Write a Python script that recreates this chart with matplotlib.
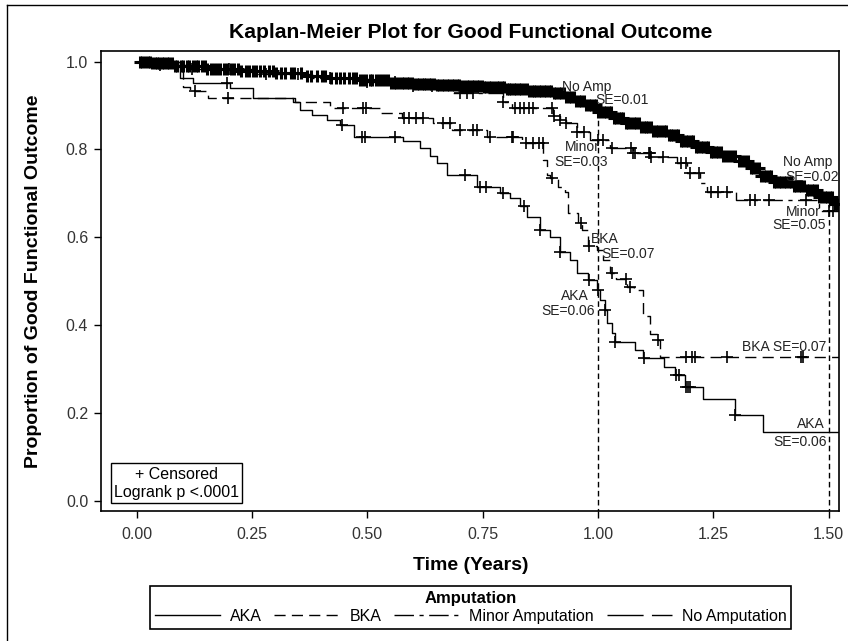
import numpy as np
import matplotlib.pyplot as plt
from matplotlib.lines import Line2D

plt.rcParams['font.family'] = ['Liberation Sans', 'DejaVu Sans']

# Kaplan-Meier step values (time in years, proportion)
aka_time = [0, 0.094, 0.123, 0.202, 0.253, 0.339, 0.354, 0.379, 0.412, 0.441, 0.470,
            0.578, 0.614, 0.636, 0.651, 0.672, 0.737, 0.788, 0.809, 0.831, 0.845,
            0.874, 0.896, 0.918, 0.939, 0.954, 0.979, 0.997, 1.004, 1.015, 1.019,
            1.030, 1.037, 1.080, 1.098, 1.142, 1.167, 1.189, 1.228, 1.297, 1.358]
aka_surv = [1.0, 0.962, 0.951, 0.939, 0.918, 0.909, 0.890, 0.879, 0.867, 0.856, 0.829,
            0.818, 0.803, 0.784, 0.769, 0.742, 0.715, 0.700, 0.689, 0.670, 0.647,
            0.617, 0.601, 0.567, 0.548, 0.518, 0.503, 0.480, 0.457, 0.434, 0.404,
            0.381, 0.362, 0.343, 0.324, 0.305, 0.286, 0.260, 0.231, 0.195, 0.156]
aka_cens = [0.195, 0.444, 0.488, 0.495, 0.56, 0.712, 0.745, 0.758, 0.795, 0.84, 0.874,
            0.918, 0.98, 1.0, 1.015, 1.037, 1.10, 1.17, 1.175, 1.19, 1.195, 1.20, 1.297]

bka_time = [0, 0.100, 0.116, 0.155, 0.343, 0.419, 0.527, 0.574, 0.643, 0.683, 0.759,
            0.835, 0.881, 0.889, 0.896, 0.914, 0.928, 0.936, 0.957, 0.965, 0.979,
            0.997, 1.011, 1.026, 1.040, 1.062, 1.077, 1.098, 1.113, 1.127, 1.134]
bka_surv = [1.0, 0.942, 0.932, 0.918, 0.909, 0.894, 0.882, 0.871, 0.860, 0.844, 0.829,
            0.814, 0.776, 0.741, 0.734, 0.715, 0.704, 0.655, 0.632, 0.617, 0.579,
            0.571, 0.548, 0.518, 0.505, 0.487, 0.480, 0.420, 0.380, 0.366, 0.328]
bka_cens = [0.127, 0.198, 0.448, 0.491, 0.498, 0.58, 0.591, 0.606, 0.621, 0.665, 0.68,
            0.70, 0.73, 0.737, 0.766, 0.813, 0.816, 0.844, 0.858, 0.872, 0.88, 0.90,
            0.963, 0.98, 1.03, 1.06, 1.07, 1.13, 1.19, 1.204, 1.211, 1.28, 1.44, 1.445]

minor_time = [0, 0.04, 0.12, 0.25, 0.38, 0.50, 0.60, 0.686, 0.795, 0.814, 0.903, 0.918,
              0.930, 0.954, 0.983, 1.026, 1.076, 1.113, 1.171, 1.192, 1.221, 1.236,
              1.300, 1.480]
minor_surv = [1.0, 0.992, 0.982, 0.972, 0.962, 0.953, 0.945, 0.928, 0.909, 0.894, 0.875,
              0.867, 0.860, 0.840, 0.822, 0.803, 0.792, 0.783, 0.769, 0.746, 0.723,
              0.704, 0.685, 0.660]
minor_cens = [0.05, 0.12, 0.2, 0.28, 0.35, 0.42, 0.5, 0.56, 0.6, 0.64, 0.70, 0.715, 0.73,
              0.795, 0.82, 0.83, 0.84, 0.85, 0.86, 0.90, 0.905, 0.918, 0.93, 0.955, 0.97,
              1.0, 1.01, 1.03, 1.072, 1.076, 1.08, 1.11, 1.112, 1.115, 1.14, 1.18, 1.19,
              1.20, 1.22, 1.245, 1.26, 1.28, 1.33, 1.34, 1.37, 1.45, 1.50, 1.51]

noamp_time = [0, 0.03, 0.08, 0.15, 0.22, 0.30, 0.36, 0.42, 0.48, 0.55, 0.60, 0.65, 0.70,
              0.75, 0.80, 0.85, 0.90, 0.93, 0.95, 0.97, 1.00, 1.03, 1.06, 1.09, 1.12,
              1.15, 1.18, 1.21, 1.24, 1.27, 1.30, 1.33, 1.35, 1.38, 1.42, 1.45, 1.48, 1.51]
noamp_surv = [1.0, 0.996, 0.99, 0.984, 0.978, 0.973, 0.968, 0.962, 0.957, 0.952, 0.949,
              0.947, 0.945, 0.942, 0.938, 0.933, 0.928, 0.920, 0.910, 0.900, 0.885,
              0.872, 0.860, 0.852, 0.843, 0.833, 0.818, 0.805, 0.795, 0.786, 0.773,
              0.757, 0.740, 0.726, 0.716, 0.708, 0.692, 0.676]
noamp_cens = [0.008, 0.012, 0.018, 0.024, 0.029, 0.034, 0.040, 0.045, 0.049, 0.055, 0.060,
              0.066, 0.071, 0.077, 0.083, 0.088, 0.095, 0.101, 0.108, 0.114, 0.121, 0.128,
              0.133, 0.141, 0.148, 0.153, 0.160, 0.168, 0.174, 0.181, 0.189, 0.196, 0.204,
              0.211, 0.219, 0.226, 0.236, 0.244, 0.251, 0.259, 0.268, 0.277, 0.286, 0.295,
              0.302, 0.313, 0.322, 0.334, 0.341, 0.356, 0.369, 0.377, 0.390, 0.402, 0.409,
              0.421, 0.433, 0.441, 0.449, 0.461, 0.468, 0.476, 0.483, 0.490, 0.498, 0.505,
              0.511, 0.518, 0.525, 0.531, 0.538, 0.545, 0.551, 0.557, 0.562, 0.568, 0.574,
              0.579, 0.585, 0.590, 0.596, 0.601, 0.607, 0.612, 0.618, 0.623, 0.628, 0.634,
              0.639, 0.645, 0.650, 0.656, 0.661, 0.667, 0.672, 0.677, 0.683, 0.688, 0.694,
              0.699, 0.704, 0.710, 0.715, 0.721, 0.726, 0.731, 0.737, 0.742, 0.748, 0.753,
              0.758, 0.764, 0.769, 0.775, 0.780, 0.785, 0.791, 0.796, 0.802, 0.807, 0.812,
              0.818, 0.823, 0.829, 0.834, 0.839, 0.845, 0.850, 0.856, 0.861, 0.866, 0.872,
              0.877, 0.883, 0.888, 0.893, 0.899, 0.904, 0.910, 0.915, 0.920, 0.926, 0.931,
              0.937, 0.942, 0.947, 0.953, 0.958, 0.964, 0.969, 0.974, 0.980, 0.985, 0.991,
              0.996, 1.001, 1.007, 1.012, 1.018, 1.023, 1.028, 1.034, 1.039, 1.045, 1.050,
              1.055, 1.061, 1.066, 1.072, 1.077, 1.082, 1.088, 1.093, 1.099, 1.104, 1.109,
              1.115, 1.120, 1.126, 1.131, 1.136, 1.142, 1.147, 1.153, 1.158, 1.163, 1.169,
              1.174, 1.180, 1.185, 1.190, 1.196, 1.201, 1.207, 1.212, 1.217, 1.223, 1.228,
              1.234, 1.239, 1.244, 1.250, 1.255, 1.261, 1.266, 1.271, 1.277, 1.283, 1.291,
              1.298, 1.306, 1.312, 1.318, 1.325, 1.331, 1.337, 1.342, 1.348, 1.353, 1.359,
              1.364, 1.370, 1.375, 1.381, 1.386, 1.392, 1.397, 1.403, 1.408, 1.414, 1.419,
              1.425, 1.430, 1.436, 1.441, 1.447, 1.452, 1.458, 1.463, 1.469, 1.474, 1.480,
              1.485, 1.491, 1.496, 1.502, 1.507, 1.513, 1.518]

end_time = 1.523
ref_times = [1.0, 1.5]


def surv_at(times, surv, t):
    idx = np.searchsorted(times, t, side='right') - 1
    return np.asarray(surv)[idx]


# label, times, survival, censored times, line style, censor mark width
groups = [
    ('AKA', aka_time, aka_surv, aka_cens, '-', 1.2),
    ('BKA', bka_time, bka_surv, bka_cens, (0, (8, 4.5)), 1.2),
    ('Minor Amputation', minor_time, minor_surv, minor_cens, (0, (14, 4, 3, 4)), 1.2),
    ('No Amputation', noamp_time, noamp_surv, noamp_cens, (0, (26, 6)), 2.2),
]

fig = plt.figure(figsize=(8.48, 6.41), dpi=100)
ax = fig.add_axes([0.1188, 0.2033, 0.8709, 0.7171])

handles = []
for label, t, s, c, ls, mw in groups:
    line, = ax.step(np.append(t, end_time), np.append(s, s[-1]), where='post',
                    color='black', lw=1.0, ls=ls, label=label)
    handles.append(line)
    ax.plot(c, surv_at(t, s, c), '+', color='black', ms=8, mew=mw)

# dashed reference lines at 1 and 1.5 years
for rt in ref_times:
    ax.plot([rt, rt], [-0.03, surv_at(noamp_time, noamp_surv, rt)], color='black',
            lw=1.0, ls=(0, (4, 2.5)))

# curve annotations
lab_kw = dict(ha='center', va='center', fontsize=10, color='#222222')
ax.text(0.9755, 0.943, 'No Amp', **lab_kw)
ax.text(1.051, 0.913, 'SE=0.01', **lab_kw)
ax.text(0.966, 0.806, 'Minor', **lab_kw)
ax.text(0.964, 0.772, 'SE=0.03', **lab_kw)
ax.text(1.455, 0.772, 'No Amp', **lab_kw)
ax.text(1.465, 0.737, 'SE=0.02', **lab_kw)
ax.text(1.4455, 0.658, 'Minor', **lab_kw)
ax.text(1.436, 0.628, 'SE=0.05', **lab_kw)
ax.text(1.015, 0.596, 'BKA', **lab_kw)
ax.text(1.066, 0.562, 'SE=0.07', **lab_kw)
ax.text(0.950, 0.466, 'AKA', **lab_kw)
ax.text(0.936, 0.431, 'SE=0.06', **lab_kw)
ax.text(1.403, 0.349, 'BKA SE=0.07', **lab_kw)
ax.text(1.462, 0.175, 'AKA', **lab_kw)
ax.text(1.438, 0.134, 'SE=0.06', **lab_kw)

ax.text(0.1024, 0.0592, '+ Censored\nLogrank p <.0001', transform=ax.transAxes,
        ha='center', va='center', fontsize=11.5, linespacing=1.3,
        bbox=dict(boxstyle='square,pad=0.2', fc='white', ec='black', lw=1.0))

ax.set_xlim(-0.078, 1.523)
ax.set_ylim(-0.0228, 1.024)
ax.set_xticks([0, 0.25, 0.5, 0.75, 1.0, 1.25, 1.5])
ax.set_xticklabels(['0.00', '0.25', '0.50', '0.75', '1.00', '1.25', '1.50'])
ax.set_yticks([0, 0.2, 0.4, 0.6, 0.8, 1.0])
ax.set_yticklabels(['0.0', '0.2', '0.4', '0.6', '0.8', '1.0'])
ax.tick_params(direction='out', length=5, width=1.0, labelsize=11.5,
               labelcolor='#333333')
ax.tick_params(axis='x', pad=7)
ax.tick_params(axis='y', pad=4)
for sp in ax.spines.values():
    sp.set_linewidth(1.2)

fig.text(0.5548, 1 - 32 / 641, 'Kaplan-Meier Plot for Good Functional Outcome',
         ha='center', va='center', fontsize=15.2, weight='bold')
fig.text(34 / 848, 1 - 281 / 641, 'Proportion of Good Functional Outcome',
         ha='center', va='center', rotation=90, fontsize=14, weight='bold')
fig.text(0.5548, 1 - 566 / 641, 'Time (Years)', ha='center', va='center',
         fontsize=14, weight='bold')

leg = fig.legend(handles=handles, loc='center', bbox_to_anchor=(0.5548, 0.0526),
                 ncol=4, title='Amputation', fontsize=11.5,
                 title_fontproperties={'weight': 'bold', 'size': 12},
                 frameon=True, fancybox=False, edgecolor='black', framealpha=1,
                 handlelength=4.1, handletextpad=0.6, columnspacing=0.8,
                 borderpad=0.3, labelspacing=0.2, borderaxespad=0)
leg.get_frame().set_linewidth(1.2)

# outer frame (top and left edges visible)
fig.add_artist(Line2D([7.3 / 848, 7.3 / 848], [0, 1 - 4.7 / 641],
                      transform=fig.transFigure, color='black', lw=1.0))
fig.add_artist(Line2D([7.3 / 848, 1], [1 - 4.7 / 641, 1 - 4.7 / 641],
                      transform=fig.transFigure, color='black', lw=1.0))

fig.savefig('out.png', dpi=100)
